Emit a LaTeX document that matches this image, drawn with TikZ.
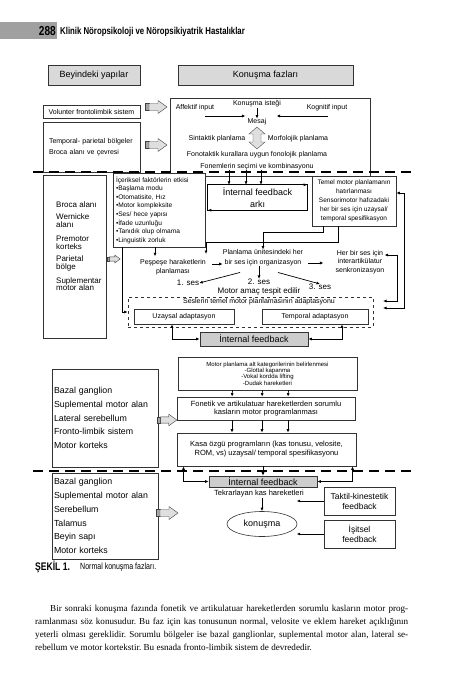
\documentclass[tikz,border=0pt]{standalone}
\usepackage{fontspec}
\setmainfont{Liberation Serif}
\setsansfont{Liberation Sans}
\newfontfamily\condfont[FakeStretch=0.78]{Liberation Sans}
\usetikzlibrary{arrows.meta,shapes.geometric}
\definecolor{boxgray}{RGB}{217,217,217}
\definecolor{fbgray}{RGB}{205,205,205}
\definecolor{bargray}{RGB}{160,160,160}
\tikzset{
  blockarr/.pic={
    \draw[black!75, fill=gray!70] (0,-3.5) rectangle (4,3.5);
    \draw[black!75, fill=gray!25] (4,-3.5) -- (13,-3.5) -- (13,-6.5) -- (22,0) -- (13,6.5) -- (13,3.5) -- (4,3.5) -- cycle;
  }
}

\begin{document}
\begin{tikzpicture}[x=1pt, y=-1pt,
    box/.style={draw=black!80, line width=0.6pt, fill=white, inner sep=0pt, align=center},
    graybox/.style={box, fill=boxgray},
    fbbox/.style={box, fill=fbgray},
    ft9/.style={font=\sffamily\fontsize{9}{12}\selectfont},
    ft8/.style={font=\sffamily\fontsize{8}{9}\selectfont},
    ft7/.style={font=\sffamily\fontsize{7}{9}\selectfont},
    lbl/.style={inner sep=0pt, align=center},
    arr/.style={-{Latex[length=3.5pt,width=3pt]}, line width=0.7pt},
    dbl/.style={{Latex[length=3.5pt,width=3pt]}-{Latex[length=3.5pt,width=3pt]}, line width=0.7pt},
    sep/.style={line width=1.8pt, dash pattern=on 10pt off 6pt}]

    \useasboundingbox (0,0) rectangle (453,680);

    % running head
    \fill[bargray] (0,22) rectangle (57,39);
    \node[lbl, anchor=base east, font=\condfont\bfseries\fontsize{13}{13}\selectfont] (pagenum) at (56,35.5) {288};
    \node[lbl, anchor=base west, font=\condfont\bfseries\fontsize{10}{10}\selectfont] (runhead) at (60,34.5) {Klinik Nöropsikoloji ve Nöropsikiyatrik Hastalıklar};

    % column heads
    \node[graybox, ft9, minimum width=92pt, minimum height=20pt] (beyin) at (94,75) {Beyindeki yapılar};
    \node[graybox, ft9, minimum width=175pt, minimum height=20pt] (fazlar) at (265.5,75) {Konuşma fazları};

    % first phase
    \node[box, ft7, minimum width=97pt, minimum height=13pt] (volunter) at (91.5,111.5) {Volunter frontolimbik sistem};
    \node[box, ft7, minimum width=97pt, minimum height=50pt, text width=85pt, align=left] (temporal) at (91.5,147) {Temporal- parietal bölgeler\\[2pt]Broca alanı ve çevresi};
    \pic at (145,107) {blockarr};
    \pic at (145,145) {blockarr};

    \node[box, minimum width=200pt, minimum height=78pt] (kfaz) at (270,137) {};
    \node[lbl, ft7] (affektif) at (195,108) {Affektif input};
    \node[lbl, ft7] (istek) at (257,104) {Konuşma isteği};
    \node[lbl, ft7] (kognitif) at (327,108) {Kognitif input};
    \node[lbl, ft7] (mesaj) at (257,122) {Mesaj};
    \coordinate (aff) at (205,116);
    \coordinate (kog) at (328,116);
    \draw[arr] (aff) -- ([xshift=-2pt]mesaj.west |- aff);
    \draw[arr] (kog) -- ([xshift=10pt]mesaj.east |- kog);
    \draw[arr] (istek.south) -- (mesaj.north);
    \draw[black!70, fill=gray!25] (257,127) -- (265,134) -- (261,134) -- (261,142) -- (265,142) -- (257,149) -- (249,142) -- (253,142) -- (253,134) -- (249,134) -- cycle;
    \node[lbl, ft7] (sintaktik) at (217,139) {Sintaktik planlama};
    \node[lbl, ft7] (morfolojik) at (298,139) {Morfolojik planlama};
    \node[lbl, ft7] (fonotaktik) at (257,155) {Fonotaktik kurallara uygun fonolojik planlama};
    \node[lbl, ft7] (fonem) at (257,167) {Fonemlerin seçimi ve kombinasyonu};

    % second phase
    \node[box, minimum width=63pt, minimum height=163pt] (broca) at (74.5,256.5) {};
    \node[lbl, anchor=north west, align=left, font=\sffamily\fontsize{8}{8}\selectfont] (brocalist) at (56,201) {Broca alanı\\[5pt]Wernicke\\alanı\\[5pt]Premotor\\korteks\\[5pt]Parietal\\bölge\\[5pt]Suplementar\\motor alan};
    \node[box, minimum width=92pt, minimum height=74pt, text width=86pt, align=left, font=\sffamily\fontsize{6.6}{8.6}\selectfont] (iceriksel) at (159,210) {İçeriksel faktörlerin etkisi\\•Başlama modu\\•Otomatisite, Hız\\•Motor kompleksite\\•Ses/ hece yapısı\\•İfade uzunluğu\\•Tanıdık olup olmama\\•Linguistik zorluk};
    \pic[scale=0.6] at (107,259) {blockarr};

    \node[lbl, minimum width=99pt, minimum height=25pt, font=\sffamily\fontsize{9}{12}\selectfont] (ifark) at (257.5,197.5) {İnternal feedback\\arkı};
    \draw[line width=1.2pt] (ifark.north west) rectangle (ifark.south east);
    \draw[arr, line width=1.2pt] (ifark.north west) -- (ifark.north east);
    \draw[arr, line width=1.2pt] (ifark.south east) -- (ifark.south west);
    \coordinate (fa) at ([xshift=-28pt]fonem.south);
    \coordinate (fb) at ([xshift=-11pt]fonem.south);
    \coordinate (fc) at ([xshift=4pt]fonem.south);
    \draw[arr] (fa) -- (fa |- ifark.north);
    \draw[arr] (fb) -- (fb |- ifark.north);
    \draw[arr] (fc) -- (fc |- ifark.north);

    \node[box, minimum width=84pt, minimum height=50pt, font=\sffamily\fontsize{6.5}{9}\selectfont] (temel) at (354,201) {Temel motor planlamanın\\hatırlanması\\Sensorimotor hafızadaki\\her bir ses için uzaysal/\\temporal spesifikasyon};

    \node[lbl, font=\sffamily\fontsize{7}{9}\selectfont] (pespese) at (173,267) {Peşpeşe haraketlerin\\planlaması};
    \node[lbl, font=\sffamily\fontsize{7}{10}\selectfont] (planlama) at (263,258) {Planlama ünitesindeki her\\bir ses için organizasyon};
    \node[lbl, font=\sffamily\fontsize{7}{8.5}\selectfont] (herbir) at (360,262) {Her bir ses için\\interartikülatur\\senkronizasyon};
    \coordinate (pb) at (206,254);
    \draw[arr] ([xshift=-31pt]temel.south) -- ++(0,6) -| (planlama.north);
    \draw[arr] ([xshift=-16pt]temel.south) -- ++(0,16) -| (pb);
    \draw[arr] ([xshift=-4pt]iceriksel.south) -- ++(0,9);
    \coordinate (pp) at (212,264);
    \coordinate (po) at (308,263);
    \draw[arr] (pp) -- (pp -| planlama.west);
    \draw[arr] (po) -- ([xshift=-12pt]herbir.west |- po);

    \node[lbl, ft8] (ses1) at (188,283) {1. ses};
    \node[lbl, ft8] (ses2) at (259,282) {2. ses};
    \node[lbl, ft8] (ses3) at (320,287) {3. ses};
    \draw[arr] ([xshift=-23pt,yshift=-6pt]planlama.south) -- (ses1.east);
    \draw[arr] (ses2.north |- planlama.south) -- (ses2.north);
    \draw[arr] ([xshift=15pt,yshift=-6pt]planlama.south) -- (ses3.north);
    \node[lbl, ft8] (amac) at (259,291) {Motor amaç tespit edilir};

    \node[draw=black!80, dashed, line width=0.8pt, minimum width=245pt, minimum height=30pt] (adapt) at (250.5,312) {};
    \node[lbl, ft7] (seslerin) at (259,302) {Seslerin temel motor planlamasının adaptasyonu};
    \node[box, ft7, minimum width=100pt, minimum height=15pt] (uzaysal) at (184,316.5) {Uzaysal adaptasyon};
    \node[box, ft7, minimum width=106pt, minimum height=15pt] (tempadapt) at (315,316.5) {Temporal adaptasyon};
    \draw[arr] ([xshift=-37pt]iceriksel.south) |- (adapt.west);

    \coordinate (ra) at (397,255);
    \coordinate (rb) at (404,193);
    \coordinate (rt1) at (383,301);
    \coordinate (rt2) at (383,308);
    \draw[dbl] (herbir.east |- ra) -- (ra) |- (rt1);
    \draw[dbl] (temel.east |- rb) -- (rb) |- (rt2);

    \node[fbbox, ft9, minimum width=108pt, minimum height=14pt] (ifbmid) at (254,339) {İnternal feedback};
    \draw[dbl] (ifbmid.west) -| ([xshift=-12pt]uzaysal.south);
    \draw[dbl] (ifbmid.east) -| ([xshift=27pt]tempadapt.south);

    \draw[sep] (33,172) -- (413,172);

    % third phase
    \node[box, minimum width=106pt, minimum height=98pt, text width=102pt, align=left, font=\sffamily\fontsize{8.8}{13.75}\selectfont] (bazal) at (105,418) {Bazal ganglion\\Suplemental motor alan\\Lateral serebellum\\Fronto-limbik sistem\\Motor korteks};
    \pic[scale=0.9] at (157,420) {blockarr};
    \node[box, minimum width=179pt, minimum height=33pt, font=\sffamily\fontsize{6}{6.4}\selectfont] (motorplan) at (267.5,373.5) {Motor planlama alt kategorilerinin belirlenmesi\\-Glottal kapanma\\-Vokal kordda lifting\\-Dudak hareketleri};
    \node[box, minimum width=178pt, minimum height=23pt, font=\sffamily\fontsize{7.5}{8.5}\selectfont] (fonetik) at (266,408.5) {Fonetik ve artikulatuar hareketlerden sorumlu\\kasların motor programlanması};
    \node[box, minimum width=179pt, minimum height=33pt, font=\sffamily\fontsize{7.5}{9}\selectfont] (kasa) at (266.5,449.5) {Kasa özgü programların (kas tonusu, velosite,\\ROM, vs) uzaysal/ temporal spesifikasyonu};
    \draw[arr] ([xshift=-35pt]motorplan.south) -- ([xshift=-34pt]fonetik.north);
    \draw[arr] ([xshift=-5pt]motorplan.south) -- ([xshift=-4pt]fonetik.north);
    \draw[arr] ([xshift=21pt]motorplan.south) -- ([xshift=22pt]fonetik.north);
    \draw[arr] ([xshift=-34pt]fonetik.south) -- ([xshift=-34.5pt]kasa.north);
    \draw[arr] ([xshift=-4pt]fonetik.south) -- ([xshift=-4.5pt]kasa.north);
    \draw[arr] ([xshift=22pt]fonetik.south) -- ([xshift=21.5pt]kasa.north);

    \draw[sep] (33,471) -- (413,471);

    % last phase
    \node[box, minimum width=106pt, minimum height=86pt, text width=102pt, align=left, font=\sffamily\fontsize{8.8}{13.8}\selectfont] (bazalb) at (105,516) {Bazal ganglion\\Suplemental motor alan\\Serebellum\\Talamus\\Beyin sapı\\Motor korteks};
    \pic at (156,513) {blockarr};
    \node[fbbox, ft9, minimum width=108pt, minimum height=11pt] (ifbbot) at (263,481.5) {İnternal feedback};
    \draw[arr] (kasa.south -| ifbbot.north) -- (ifbbot.north);
    \draw[dbl] (ifbbot.west) -| ([xshift=-83pt]kasa.south);
    \draw[dbl] (ifbbot.east) -| ([xshift=86pt]kasa.south);
    \node[lbl, font=\sffamily\fontsize{7.5}{9}\selectfont] (tekrar) at (259,494) {Tekrarlayan kas hareketleri};
    \node[draw=black!80, line width=0.6pt, ellipse, inner sep=0pt, minimum width=70pt, minimum height=25pt, ft9] (konusma) at (262,524) {konuşma};
    \draw[arr] (tekrar.south -| konusma.north) -- (konusma.north);
    \node[box, minimum width=71pt, minimum height=28pt, font=\sffamily\fontsize{8.5}{10}\selectfont] (taktil) at (359.5,501) {Taktil-kinestetik\\feedback};
    \node[box, minimum width=71pt, minimum height=28pt, font=\sffamily\fontsize{8.5}{10}\selectfont] (isitsel) at (359.5,534) {İşitsel\\feedback};
    \draw[arr] (taktil.west) -- ++(-27,0);
    \draw[arr] (isitsel.west) -- ++(-27,0);

    % caption and text
    \node[lbl, anchor=base west, font=\condfont\bfseries\fontsize{11}{11}\selectfont] (sekil) at (35,570) {ŞEKİL 1.};
    \node[lbl, anchor=base west, font=\condfont\fontsize{9}{9}\selectfont] (caption) at (80,569.5) {Normal konuşma fazları.};
    \node[anchor=north west, inner sep=0pt, text width=373pt, align=justify, font=\rmfamily\fontsize{9.1}{13}\selectfont] (body) at (35,605) {\frenchspacing\hspace*{15pt}Bir sonraki konuşma fazında fonetik ve artikulatuar hareketlerden sorumlu kasların motor prog-\linebreak ramlanması söz konusudur. Bu faz için kas tonusunun normal, velosite ve eklem hareket açıklığının\linebreak yeterli olması gereklidir. Sorumlu bölgeler ise bazal ganglionlar, suplemental motor alan, lateral se-\linebreak rebellum ve motor kortekstir. Bu esnada fronto-limbik sistem de devrededir.};
\end{tikzpicture}
\end{document}
